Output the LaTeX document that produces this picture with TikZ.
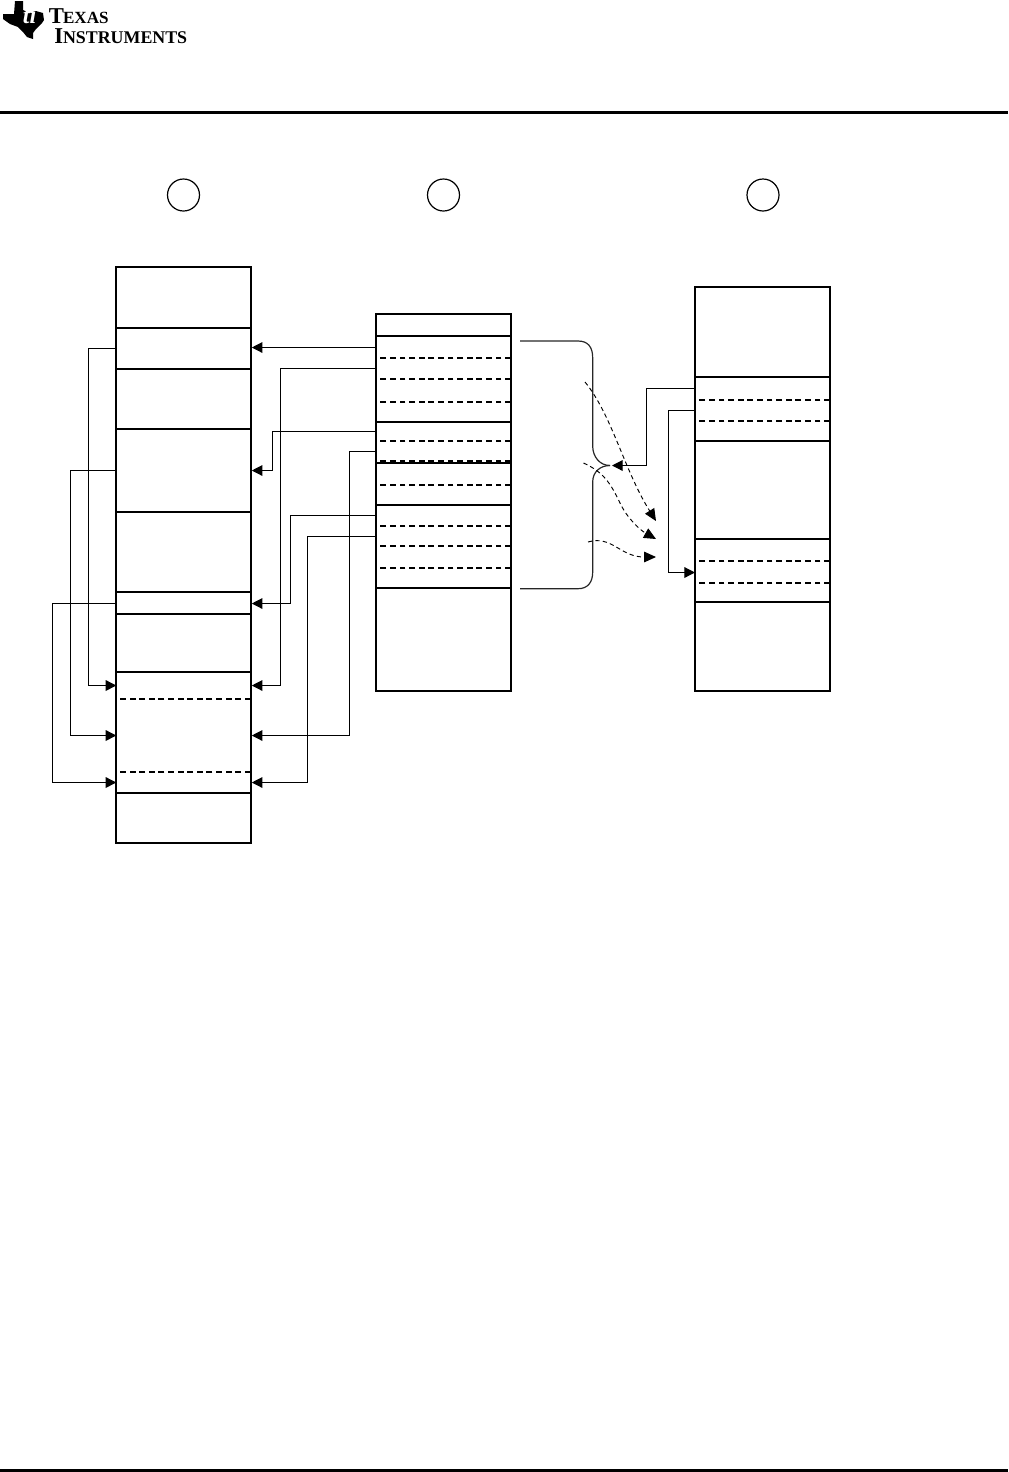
\documentclass[tikz,border=0pt]{standalone}
\usepackage{fontspec}
\setmainfont{Liberation Serif}
\usetikzlibrary{arrows.meta,fit}
\tikzset{
  x=0.75pt,y=-0.75pt,
  rowcell/.style={inner sep=0pt,outer sep=0pt,fit={#1}},
  frame/.style={draw=black,line width=1.5pt,inner sep=0pt,outer sep=0pt,fit={#1}},
  solidsep/.style={draw=black,line width=1.4pt},
  dashsep/.style={draw=black,line width=1.2pt,dash pattern=on 4.4pt off 2.8pt},
  wire/.style={draw=black,line width=0.9pt},
  arrowed/.style={wire,-{Triangle[length=8pt,width=8pt]}},
  curvewire/.style={draw=black!85,line width=0.9pt},
  dashflow/.style={draw=black,line width=0.7pt,dash pattern=on 3.2pt off 2.4pt,-{Triangle[length=9pt,width=8pt]}},
  stepcircle/.style={circle,draw=black,line width=0.9pt,minimum size=24pt,inner sep=0pt},
  rule/.style={fill=black,draw=none},
}
% \rowc{name}{x0}{y0}{x1}{y1}
\newcommand{\rowc}[5]{\node[rowcell={(#2,#3)(#4,#5)}] (#1) {};}
\newcommand{\ssep}[1]{\draw[solidsep] (#1.south west) -- (#1.south east);}
\newcommand{\dsepS}[1]{\draw[dashsep] (#1.south east) -- ([xshift=2pt]#1.south west);}
\newcommand{\dsepN}[1]{\draw[dashsep] (#1.north east) -- ([xshift=2pt]#1.north west);}
\begin{document}
\begin{tikzpicture}
\useasboundingbox (0,0) rectangle (1008,1472);
% page rules
\fill[rule] (0,110.5) rectangle (1008,113.5);
\fill[rule] (0,1469) rectangle (1008,1472);
% logo
\fill[black] (3,14) -- (14,14) -- (15,1) -- (23,1) -- (23,10) -- (30,13) -- (36,11) -- (43,13)
  -- (44,20) -- (42,23) -- (36,29) -- (33,33) -- (33,39) -- (27,37) -- (23,32) -- (18,27)
  -- (10,24) -- (3,19) -- cycle;
\node[anchor=center,text=white,inner sep=0pt] (tilogo) at (29.5,15.5)
  {\fontsize{18}{18}\selectfont\bfseries\itshape ti};
\node[anchor=base west,inner sep=0pt] (texas) at (48.5,23.5)
  {\fontsize{17}{17}\selectfont\bfseries T\kern-0.6pt\fontsize{12.8}{12.8}\selectfont EXAS};
\node[anchor=base west,inner sep=0pt] (instruments) at (54,43.5)
  {\fontsize{17}{17}\selectfont\bfseries I\fontsize{13.4}{13.4}\selectfont NSTRUMENTS};
% step circles
\node[stepcircle] (c1) at (183.5,195) {};
\node[stepcircle] (c2) at (443.5,195) {};
\node[stepcircle] (c3) at (763,195) {};
% left column
\node[frame={(116.3,267)(250.7,843)}] (Lcol) {};
\rowc{L1}{116.3}{267}{250.7}{328}
\rowc{L2}{116.3}{328}{250.7}{369}
\rowc{L3}{116.3}{369}{250.7}{429}
\rowc{L4}{116.3}{429}{250.7}{512}
\rowc{L5}{116.3}{512}{250.7}{592}
\rowc{L6}{116.3}{592}{250.7}{615}
\rowc{L7}{116.3}{614}{250.7}{672}
\rowc{L8}{116.3}{672}{250.7}{699}
\rowc{L9}{116.3}{699}{250.7}{772}
\rowc{L10}{116.3}{772}{250.7}{793}
\ssep{L1}\ssep{L3}\ssep{L4}\ssep{L5}\ssep{L7}\ssep{L10}
\draw[solidsep] (L7.north west) -- (L7.north east);
\draw[solidsep,line width=1.8pt] (L2.south west) -- (L2.south east);
\dsepS{L8}\dsepS{L9}
% middle column
\node[frame={(376,314)(511,691)}] (Mcol) {};
\rowc{M0}{376}{314}{511}{336}
\rowc{M1}{376}{336}{511}{359}
\rowc{M2}{376}{358}{511}{379}
\rowc{M3}{376}{379}{511}{402}
\rowc{M4}{376}{402}{511}{422}
\rowc{M5}{376}{422}{511}{441}
\rowc{M6}{376}{441}{511}{462}
\rowc{M7}{376}{463}{511}{485}
\rowc{M8}{376}{485}{511}{505}
\rowc{M9}{376}{505}{511}{526}
\rowc{M10}{376}{526}{511}{547}
\rowc{M11}{376}{546}{511}{568}
\rowc{M12}{376}{568}{511}{588}
\ssep{M0}\ssep{M4}\ssep{M8}\ssep{M12}
\draw[solidsep] (M7.north west) -- (M7.north east);
\dsepN{M2}\dsepN{M3}\dsepS{M3}\dsepS{M5}\dsepS{M7}\dsepN{M10}\dsepN{M11}\dsepS{M11}
\draw[dashsep] (M7.north east |- 0,461) -- ([xshift=2pt]M7.north west |- 0,461);
% right column
\node[frame={(695,287)(830,691)}] (Rcol) {};
\rowc{R1}{695}{287}{830}{377}
\rowc{R2}{695}{377}{830}{400}
\rowc{R3}{695}{400}{830}{421}
\rowc{R4}{695}{421}{830}{441}
\rowc{R5}{695}{441}{830}{539}
\rowc{R6}{695}{539}{830}{561}
\rowc{R7}{695}{561}{830}{584}
\rowc{R8}{695}{583}{830}{602}
\ssep{R1}\ssep{R4}\ssep{R5}
\draw[solidsep,line width=1.8pt] (R8.south west) -- (R8.south east);
\dsepS{R2}\dsepS{R3}\dsepS{R6}\dsepN{R8}
% bus coordinates
\coordinate (bA) at (88.7,0);
\coordinate (bB) at (70.7,0);
\coordinate (bC) at (52.3,0);
\coordinate (bD) at (280.3,0);
\coordinate (bE) at (272.3,0);
\coordinate (bF) at (349.7,0);
\coordinate (bG) at (290.3,0);
\coordinate (bH) at (307.3,0);
\coordinate (bI) at (646.3,0);
\coordinate (bJ) at (668.3,0);
% left-hand loops
\draw[arrowed] (L2.west) -- (L2.west -| bA) -- (L8.west -| bA) -- (L8.west);
\draw[arrowed] (L4.west) -- (L4.west -| bB) -- (L9.west -| bB) -- (L9.west);
\draw[arrowed] (L6.west) -- (L6.west -| bC) -- (L10.west -| bC) -- (L10.west);
% middle to left
\draw[arrowed,shorten >=0.8pt] (M1.west) -- (M1.west -| L2.east);
\draw[arrowed,shorten >=0.8pt] (M2.west) -- (M2.west -| bD) -- (L8.east -| bD) -- (L8.east);
\draw[arrowed,shorten >=0.8pt] (M5.west) -- (M5.west -| bE) -- (L4.east -| bE) -- (L4.east);
\draw[arrowed,shorten >=0.8pt] (M6.west) -- (M6.west -| bF) -- (L9.east -| bF) -- (L9.east);
\draw[arrowed,shorten >=0.8pt] (M9.west) -- (M9.west -| bG) -- (L6.east -| bG) -- (L6.east);
\draw[arrowed,shorten >=0.8pt] (M10.west) -- (M10.west -| bH) -- (L10.east -| bH) -- (L10.east);
% brace
\coordinate (brTop) at (520,341);
\coordinate (brBot) at (520,588.7);
\coordinate (brTip) at (610,465.5);
\draw[curvewire] (brTop) -- (578,341) .. controls (588,341) and (592.7,347) .. (592.7,358)
  -- (592.7,446) .. controls (592.7,457) and (600,465.5) .. (brTip);
\draw[curvewire] (brBot) -- (578,588.7) .. controls (588,588.7) and (592.7,582) .. (592.7,572)
  -- (592.7,482) .. controls (592.7,472) and (600,465.5) .. (brTip);
% right-hand connectors
\draw[arrowed] (R2.west) -- (R2.west -| bI) -- (brTip -| bI) -- ([xshift=1.5pt]brTip);
\draw[arrowed] (R3.west) -- (R3.west -| bJ) -- (R7.west -| bJ) -- (R7.west);
% dashed flows
\coordinate (f1s) at (585,382); \coordinate (f1e) at (656,521);
\coordinate (f2s) at (583.5,463); \coordinate (f2e) at (656,539);
\coordinate (f3s) at (588,542); \coordinate (f3e) at (656,557);
\draw[dashflow] (f1s) .. controls (612,415) and (624,470) .. (f1e);
\draw[dashflow] (f2s) .. controls (603,472) and (610,482) .. (620,503) .. controls (627,518) and (640,530) .. (f2e);
\draw[dashflow] (f3s) .. controls (612,535) and (620,557) .. (f3e);
\end{tikzpicture}
\end{document}
